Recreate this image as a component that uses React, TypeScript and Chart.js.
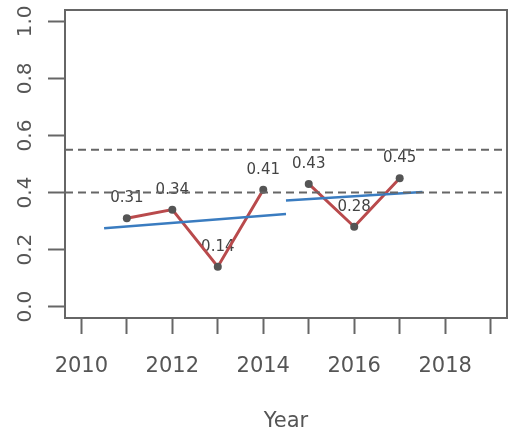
import React, { useEffect, useRef } from 'react';
import { Chart, registerables } from 'chart.js';

Chart.register(...registerables);

// ---- data ----
const years1 = [2011, 2012, 2013, 2014];
const values1 = [0.31, 0.34, 0.14, 0.41];
const years2 = [2015, 2016, 2017];
const values2 = [0.43, 0.28, 0.45];
const trend1X = [2010.5, 2014.5];
const trend1Y = [0.275, 0.325];
const trend2X = [2014.5, 2017.5];
const trend2Y = [0.372, 0.402];
const refLines = [0.4, 0.55];
const xTickValues = [2010, 2011, 2012, 2013, 2014, 2015, 2016, 2017, 2018, 2019];
const xTickLabels = ['2010', '', '2012', '', '2014', '', '2016', '', '2018', ''];
const yTickValues = [0, 0.2, 0.4, 0.6, 0.8, 1.0];
const yTickLabels = ['0.0', '0.2', '0.4', '0.6', '0.8', '1.0'];
const xRange = [2009.64, 2019.36];
const yRange = [-0.04, 1.04];
const xTitle = 'Year';

const RED = '#b94a4c';
const BLUE = '#3a7cc0';
const GREY = '#666666';
const FONT = '"DejaVu Sans", "Liberation Sans", Arial, sans-serif';

const toPts = (xs: number[], ys: number[]) => xs.map((x, i) => ({ x, y: ys[i] }));

const valueLabelPlugin = {
  id: 'valueLabels',
  beforeDatasetsDraw(chart: any) {
    const ctx = chart.ctx;
    ctx.save();
    ctx.font = `15px ${FONT}`;
    ctx.fillStyle = '#444444';
    ctx.textAlign = 'center';
    ctx.textBaseline = 'middle';
    chart.data.datasets.forEach((ds: any, i: number) => {
      if (!ds.showValues) return;
      const meta = chart.getDatasetMeta(i);
      meta.data.forEach((pt: any, j: number) => {
        const v = ds.data[j].y as number;
        ctx.fillText(v.toFixed(2), pt.x, pt.y - 20);
      });
    });
    ctx.restore();
  },
};

const boxPlugin = {
  id: 'plotBox',
  afterDraw(chart: any) {
    const { ctx, chartArea } = chart;
    ctx.save();
    ctx.strokeStyle = GREY;
    ctx.lineWidth = 2;
    ctx.strokeRect(chartArea.left, chartArea.top, chartArea.right - chartArea.left, chartArea.bottom - chartArea.top);
    ctx.restore();
  },
};

const zeroPad = (s: any) => {
  s.paddingTop = 0;
  s.paddingBottom = 0;
  s.paddingLeft = 0;
  s.paddingRight = 0;
};

export default function App() {
  const ref = useRef<HTMLCanvasElement | null>(null);

  useEffect(() => {
    if (!ref.current) return;
    const chart = new Chart(ref.current, {
      type: 'line',
      data: {
        datasets: [
          ...refLines.map((v) => ({
            data: [{ x: xRange[0], y: v }, { x: xRange[1], y: v }],
            borderColor: GREY,
            borderWidth: 2,
            borderDash: [8, 5],
            pointRadius: 0,
            order: 1,
          })),
          {
            data: toPts(trend1X, trend1Y),
            borderColor: BLUE,
            borderWidth: 2.5,
            pointRadius: 0,
            order: 2,
          },
          {
            data: toPts(trend2X, trend2Y),
            borderColor: BLUE,
            borderWidth: 2.5,
            pointRadius: 0,
            order: 2,
          },
          {
            data: toPts(years1, values1),
            borderColor: RED,
            borderWidth: 3,
            pointRadius: 4,
            pointBackgroundColor: '#555555',
            pointBorderWidth: 0,
            showValues: true,
            order: 3,
          },
          {
            data: toPts(years2, values2),
            borderColor: RED,
            borderWidth: 3,
            pointRadius: 4,
            pointBackgroundColor: '#555555',
            pointBorderWidth: 0,
            showValues: true,
            order: 3,
          },
        ] as any,
      },
      options: {
        responsive: false,
        animation: false,
        devicePixelRatio: 1,
        layout: { autoPadding: false, padding: { top: 10, right: 1, left: 0, bottom: 0 } },
        plugins: { legend: { display: false }, tooltip: { enabled: false } },
        elements: { line: { tension: 0 } },
        scales: {
          x: {
            type: 'linear',
            min: xRange[0],
            max: xRange[1],
            bounds: 'data',
            afterBuildTicks: (s: any) => {
              s.ticks = xTickValues.map((value) => ({ value }));
            },
            afterFit: (s: any) => {
              s.height = 119;
              zeroPad(s);
            },
            grid: {
              drawOnChartArea: false,
              drawTicks: true,
              tickLength: 16,
              tickColor: GREY,
              tickWidth: 2,
            },
            border: { display: false },
            ticks: {
              autoSkip: false,
              maxRotation: 0,
              padding: 20,
              color: '#555555',
              font: { family: FONT, size: 21 },
              callback: (v: any) => {
                const i = xTickValues.indexOf(Number(v));
                return i >= 0 ? xTickLabels[i] : '';
              },
            },
            title: {
              display: true,
              text: xTitle,
              color: '#555555',
              font: { family: FONT, size: 21 },
              padding: { top: 0, bottom: 3 },
            },
          },
          y: {
            type: 'linear',
            min: yRange[0],
            max: yRange[1],
            bounds: 'data',
            afterBuildTicks: (s: any) => {
              s.ticks = yTickValues.map((value) => ({ value }));
            },
            afterFit: (s: any) => {
              s.width = 65;
              zeroPad(s);
            },
            grid: {
              drawOnChartArea: false,
              drawTicks: true,
              tickLength: 17,
              tickColor: GREY,
              tickWidth: 2,
            },
            border: { display: false },
            ticks: {
              autoSkip: false,
              minRotation: 90,
              maxRotation: 90,
              crossAlign: 'center',
              padding: 6,
              color: '#555555',
              font: { family: FONT, size: 20 },
              callback: (v: any) => {
                const i = yTickValues.findIndex((t) => Math.abs(t - Number(v)) < 1e-9);
                return i >= 0 ? yTickLabels[i] : '';
              },
            },
          },
        },
      } as any,
      plugins: [valueLabelPlugin, boxPlugin],
    });
    return () => chart.destroy();
  }, []);

  return (
    <div style={{ position: 'fixed', left: 0, top: 0, width: 508, height: 437, background: '#fff' }}>
      <canvas ref={ref} width={508} height={437} style={{ width: 508, height: 437 }} />
    </div>
  );
}
